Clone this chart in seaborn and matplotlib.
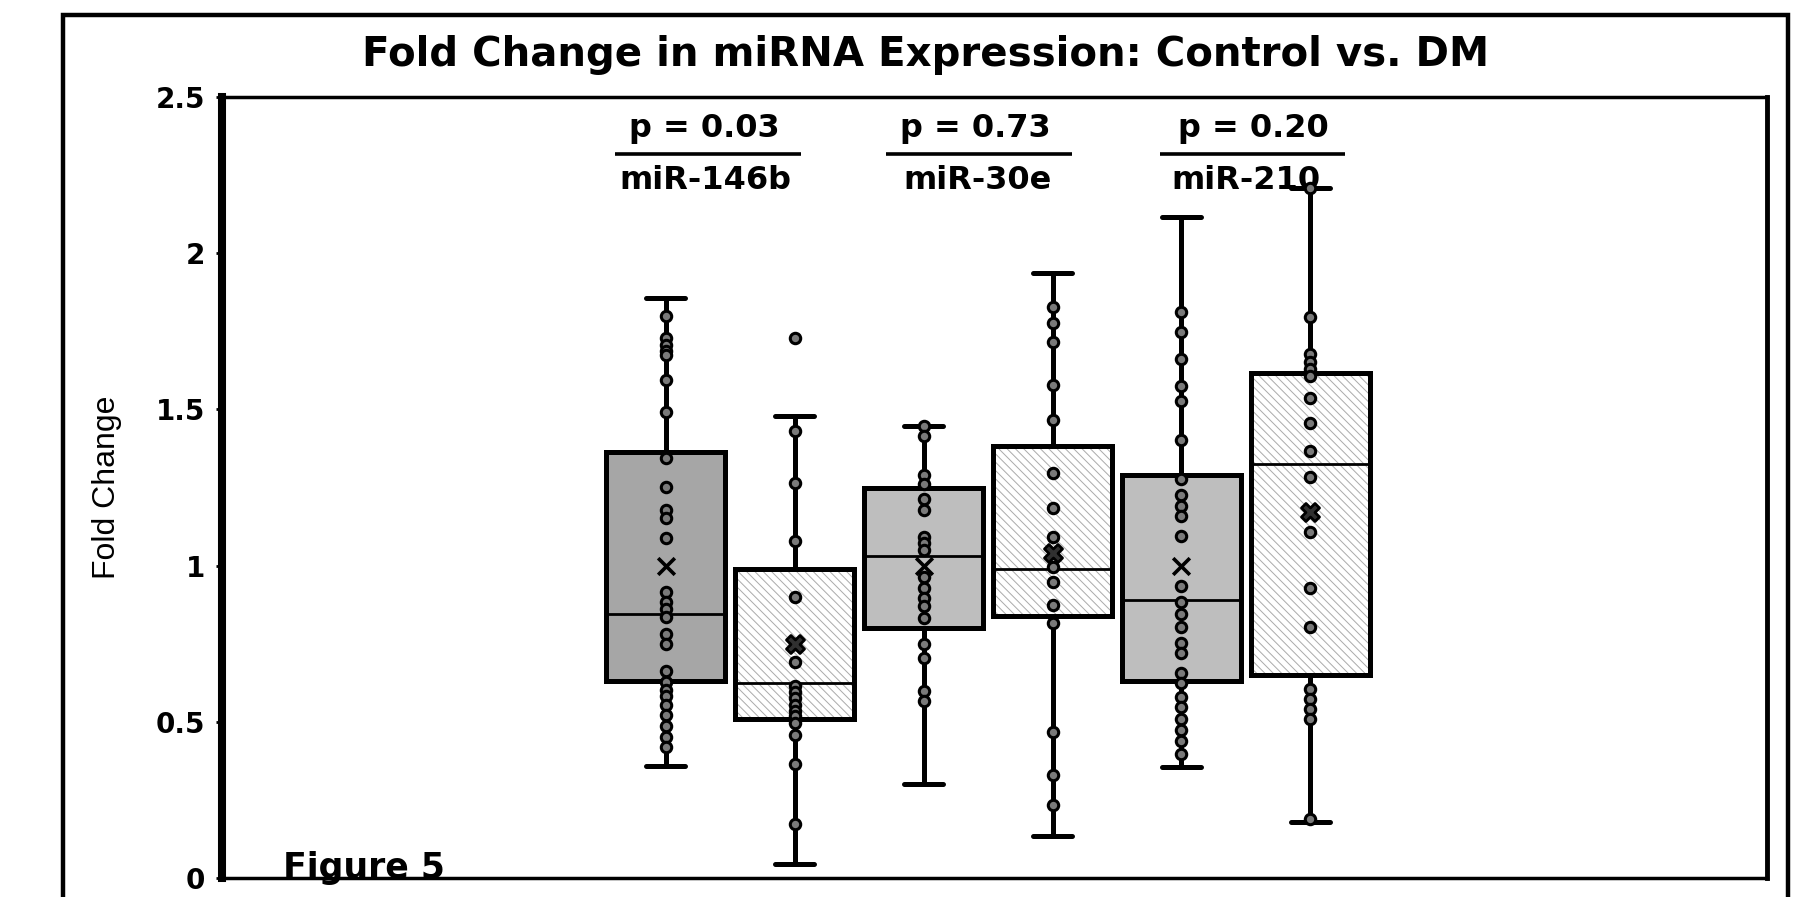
import numpy as np
import pandas as pd
import matplotlib
matplotlib.use("Agg")
import matplotlib.pyplot as plt
import seaborn as sns
from matplotlib.patches import PathPatch, Rectangle

# ---------------- data ----------------
genes = ["miR-146b", "miR-30e", "miR-210"]
groups = ["Control", "DM"]
p_labels = ["p = 0.03", "p = 0.73", "p = 0.20"]

# five-number summaries: lower whisker, Q1, median, Q3, upper whisker
ctrl_146b_box = [0.36, 0.63, 0.846, 1.365, 1.855]
dm_146b_box = [0.045, 0.51, 0.625, 0.99, 1.478]
ctrl_30e_box = [0.30, 0.80, 1.032, 1.247, 1.448]
dm_30e_box = [0.135, 0.84, 0.99, 1.384, 1.938]
ctrl_210_box = [0.356, 0.632, 0.89, 1.29, 2.115]
dm_210_box = [0.18, 0.65, 1.326, 1.617, 2.21]

# means
ctrl_means = [1.00, 1.00, 1.00]
dm_means = [0.75, 1.04, 1.17]

# individual data points
ctrl_146b_pts = [1.80, 1.73, 1.705, 1.686, 1.673, 1.595, 1.492, 1.343, 1.253,
                 1.179, 1.153, 1.088, 0.917, 0.885, 0.862, 0.836, 0.781, 0.749,
                 0.663, 0.626, 0.603, 0.581, 0.555, 0.523, 0.487, 0.452, 0.42]
dm_146b_pts = [1.73, 1.43, 1.263, 1.079, 0.90, 0.75, 0.691, 0.613, 0.594, 0.575,
               0.555, 0.536, 0.517, 0.497, 0.458, 0.364, 0.174]
ctrl_30e_pts = [1.446, 1.414, 1.291, 1.261, 1.214, 1.179, 1.093, 1.071, 1.049,
                0.962, 0.929, 0.897, 0.871, 0.832, 0.748, 0.703, 0.600, 0.568]
dm_30e_pts = [1.827, 1.776, 1.717, 1.579, 1.466, 1.295, 1.184, 1.091, 0.994,
              0.949, 0.874, 0.817, 0.468, 0.331, 0.234]
ctrl_210_pts = [1.813, 1.748, 1.661, 1.574, 1.528, 1.402, 1.276, 1.225, 1.192,
                1.160, 1.096, 0.934, 0.882, 0.844, 0.805, 0.753, 0.721, 0.656,
                0.624, 0.579, 0.546, 0.508, 0.475, 0.437, 0.398]
dm_210_pts = [2.21, 1.797, 1.677, 1.651, 1.629, 1.606, 1.537, 1.455, 1.367,
              1.283, 1.108, 0.928, 0.805, 0.605, 0.572, 0.540, 0.508, 0.19]

y_ticks = [0, 0.5, 1, 1.5, 2, 2.5]
y_tick_labels = ["0", "0.5", "1", "1.5", "2", "2.5"]

title = "Fold Change in miRNA Expression: Control vs. DM"
y_label = "Fold Change"
fig_label = "Figure 5"

# ---------------- tables ----------------
boxes = {("miR-146b", "Control"): ctrl_146b_box, ("miR-146b", "DM"): dm_146b_box,
         ("miR-30e", "Control"): ctrl_30e_box, ("miR-30e", "DM"): dm_30e_box,
         ("miR-210", "Control"): ctrl_210_box, ("miR-210", "DM"): dm_210_box}
points = {("miR-146b", "Control"): ctrl_146b_pts, ("miR-146b", "DM"): dm_146b_pts,
          ("miR-30e", "Control"): ctrl_30e_pts, ("miR-30e", "DM"): dm_30e_pts,
          ("miR-210", "Control"): ctrl_210_pts, ("miR-210", "DM"): dm_210_pts}

cats = [f"{g} {grp}" for g in genes for grp in groups]

box_df = pd.DataFrame([(f"{g} {grp}", grp, v) for (g, grp), vals in boxes.items() for v in vals],
                      columns=["cat", "group", "value"])
pts_df = pd.DataFrame([(f"{g} {grp}", grp, v) for (g, grp), vals in points.items() for v in vals],
                      columns=["cat", "group", "value"])
ctrl_mean_df = pd.DataFrame({"cat": [f"{g} Control" for g in genes], "value": ctrl_means})
dm_mean_df = pd.DataFrame({"cat": [f"{g} DM" for g in genes], "value": dm_means})

# ---------------- figure ----------------
sns.set_style("white")
plt.rcParams["font.family"] = ["DejaVu Sans"]
plt.rcParams["hatch.linewidth"] = 0.7
for key in ["text.color", "axes.labelcolor", "xtick.color", "ytick.color"]:
    plt.rcParams[key] = "black"

W, H = 1803, 897
fig = plt.figure(figsize=(W / 100, H / 100), dpi=100)
ax = fig.add_axes([222 / W, 19 / H, (1767 - 222) / W, (878 - 97) / H])

sns.boxplot(data=box_df, x="cat", y="value", hue="group", order=cats, hue_order=groups,
            palette={"Control": "#bebebe", "DM": "white"}, dodge=False, width=0.92,
            whis=(0, 100), showfliers=False, linecolor="black", linewidth=3.6,
            capwidths=0.3, medianprops=dict(linewidth=2.0), legend=False, ax=ax)

# style boxes: darker first control box, hatched DM boxes
for p in list(ax.patches):
    verts = p.get_path().vertices
    i = int(round((verts[:, 0].min() + verts[:, 0].max()) / 2))
    if i == 0:
        p.set_facecolor("#a6a6a6")
    if i % 2 == 1:
        hp = PathPatch(p.get_path(), transform=p.get_transform(), facecolor="white",
                       edgecolor="#aaaaaa", lw=0, hatch="\\\\\\\\",
                       zorder=p.get_zorder() - 0.01)
        ax.add_patch(hp)
        p.set_facecolor("none")

sns.stripplot(data=pts_df, x="cat", y="value", order=cats, jitter=False, dodge=False,
              color="#7a7a7a", edgecolor="black", linewidth=2.2, size=7.5,
              zorder=4, ax=ax)
sns.stripplot(data=ctrl_mean_df, x="cat", y="value", order=cats, jitter=False,
              marker="x", color="black", linewidth=2.6, size=12, zorder=5, ax=ax)
sns.stripplot(data=dm_mean_df, x="cat", y="value", order=cats, jitter=False,
              marker="X", color="#303030", edgecolor="black", linewidth=2.0, size=13,
              zorder=5, ax=ax)

ax.set_xlim(-3.44, 8.54)
ax.set_ylim(0, 2.5)
ax.set_xticks([])
ax.set_xlabel("")
ax.set_yticks(y_ticks)
ax.set_yticklabels(y_tick_labels, fontsize=20, fontweight="bold")
ax.tick_params(axis="y", left=True, length=4, width=2, pad=8, direction="out")
ax.set_ylabel(y_label, fontsize=23, family=["Liberation Sans", "DejaVu Sans"])
ax.yaxis.set_label_coords(-0.065, 0.5)

for side, lw in [("left", 5.8), ("right", 3.5), ("top", 2.5), ("bottom", 2.5)]:
    ax.spines[side].set_visible(True)
    ax.spines[side].set_linewidth(lw)
    ax.spines[side].set_color("black")

# p-value headers
line_x = [0.33, 2.43, 4.55]
gene_x = [0.31, 2.42, 4.50]
p_x = [0.30, 2.40, 4.56]
half = 0.72
for k in range(len(genes)):
    ax.text(p_x[k], 2.40, p_labels[k], ha="center", va="center", fontsize=23,
            fontweight="bold")
    ax.plot([line_x[k] - half, line_x[k] + half], [2.318, 2.318], color="black",
            lw=2.6, solid_capstyle="butt", clip_on=False, zorder=6)
    ax.text(gene_x[k], 2.232, genes[k], ha="center", va="center", fontsize=23,
            fontweight="bold", zorder=3)

fig.text(925.6 / W, 1 - 66 / H, title, ha="center", va="baseline", fontsize=29,
         fontweight="bold")
fig.text(283 / W, 19 / H, fig_label, ha="left", va="baseline", fontsize=25,
         fontweight="bold", zorder=10)

fig.add_artist(Rectangle((63 / W, -0.05), (1788 - 63) / W, 1.05 - 15 / H,
                         transform=fig.transFigure, fill=False, lw=3.2,
                         edgecolor="black"))

fig.savefig("out.png", dpi=100)
